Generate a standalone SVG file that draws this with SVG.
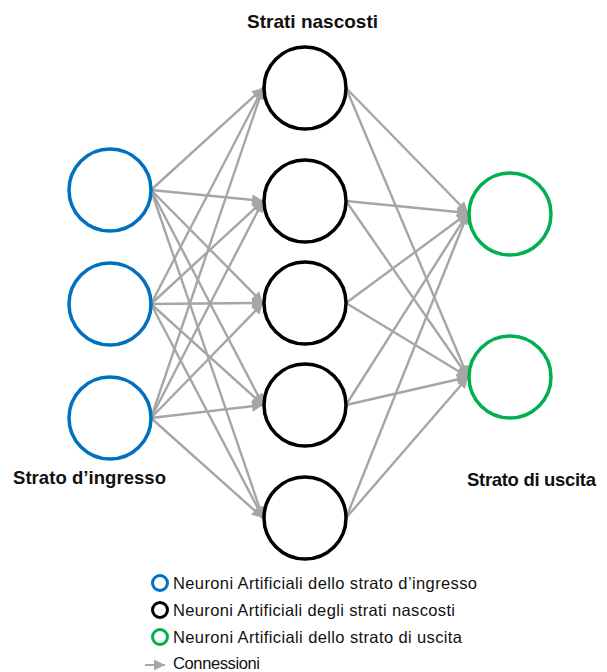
<svg xmlns="http://www.w3.org/2000/svg" width="607" height="672" viewBox="0 0 607 672">
<style>
.title{font-family:"Liberation Sans",Arial,sans-serif;font-weight:bold;font-size:18.5px;fill:#111}
.leg{font-family:"Liberation Sans",Arial,sans-serif;font-size:16.5px;fill:#111}
.in{fill:#fff;stroke:#0070C0;stroke-width:3.5}
.hid{fill:#fff;stroke:#000;stroke-width:3.5}
.out{fill:#fff;stroke:#00B050;stroke-width:3.5}
.conn line{stroke:#A6A6A6;stroke-width:2.4;marker-end:url(#ah)}
</style>
<defs>
<marker id="ah" viewBox="0 0 10 10" refX="10" refY="5" markerWidth="12" markerHeight="11" markerUnits="userSpaceOnUse" orient="auto">
<path d="M0,0 L10,5 L0,10 z" fill="#A6A6A6"/>
</marker>
</defs>
<rect width="607" height="672" fill="#fff"/>
<g id="connectors" class="conn">
<line x1="151" y1="190" x2="263" y2="88"/>
<line x1="151" y1="190" x2="263" y2="201"/>
<line x1="151" y1="190" x2="263" y2="303"/>
<line x1="151" y1="190" x2="263" y2="405"/>
<line x1="151" y1="190" x2="263" y2="518"/>
<line x1="151" y1="304" x2="263" y2="88"/>
<line x1="151" y1="304" x2="263" y2="201"/>
<line x1="151" y1="304" x2="263" y2="303"/>
<line x1="151" y1="304" x2="263" y2="405"/>
<line x1="151" y1="304" x2="263" y2="518"/>
<line x1="151" y1="418" x2="263" y2="88"/>
<line x1="151" y1="418" x2="263" y2="201"/>
<line x1="151" y1="418" x2="263" y2="303"/>
<line x1="151" y1="418" x2="263" y2="405"/>
<line x1="151" y1="418" x2="263" y2="518"/>
<line x1="346" y1="88" x2="468" y2="213"/>
<line x1="346" y1="88" x2="468" y2="377"/>
<line x1="346" y1="201" x2="468" y2="213"/>
<line x1="346" y1="201" x2="468" y2="377"/>
<line x1="346" y1="303" x2="468" y2="213"/>
<line x1="346" y1="303" x2="468" y2="377"/>
<line x1="346" y1="405" x2="468" y2="213"/>
<line x1="346" y1="405" x2="468" y2="377"/>
<line x1="346" y1="518" x2="468" y2="213"/>
<line x1="346" y1="518" x2="468" y2="377"/>
</g>
<g id="input1"><circle class="in" cx="110" cy="190" r="41"/></g>
<g id="input2"><circle class="in" cx="110" cy="304" r="41"/></g>
<g id="input3"><circle class="in" cx="110" cy="418" r="41"/></g>
<g id="hidden1"><circle class="hid" cx="305" cy="88" r="41"/></g>
<g id="hidden2"><circle class="hid" cx="305" cy="201" r="41"/></g>
<g id="hidden3"><circle class="hid" cx="305" cy="303" r="41"/></g>
<g id="hidden4"><circle class="hid" cx="305" cy="405" r="41"/></g>
<g id="hidden5"><circle class="hid" cx="305" cy="518" r="41"/></g>
<g id="output1"><circle class="out" cx="510" cy="214" r="41"/></g>
<g id="output2"><circle class="out" cx="510" cy="377" r="41"/></g>
<g id="labels">
<text class="title" x="247" y="28" textLength="131" style="font-size:19px">Strati nascosti</text>
<text class="title" x="13" y="484" textLength="153">Strato d’ingresso</text>
<text class="title" x="467" y="486" textLength="129">Strato di uscita</text>
</g>
<g id="legend">
<circle cx="160" cy="583" r="7.5" fill="none" stroke="#0070C0" stroke-width="3"/>
<circle cx="160" cy="610" r="7.5" fill="none" stroke="#000" stroke-width="3"/>
<circle cx="160" cy="637" r="7.5" fill="none" stroke="#00B050" stroke-width="3"/>
<line x1="145" y1="665" x2="165" y2="665" stroke="#A6A6A6" stroke-width="2" marker-end="url(#ah)"/>
<text class="leg" x="173" y="589" textLength="304">Neuroni Artificiali dello strato d’ingresso</text>
<text class="leg" x="173" y="616" textLength="282">Neuroni Artificiali degli strati nascosti</text>
<text class="leg" x="173" y="643" textLength="289">Neuroni Artificiali dello strato di uscita</text>
<text class="leg" x="173" y="669" textLength="87">Connessioni</text>
</g>
</svg>
